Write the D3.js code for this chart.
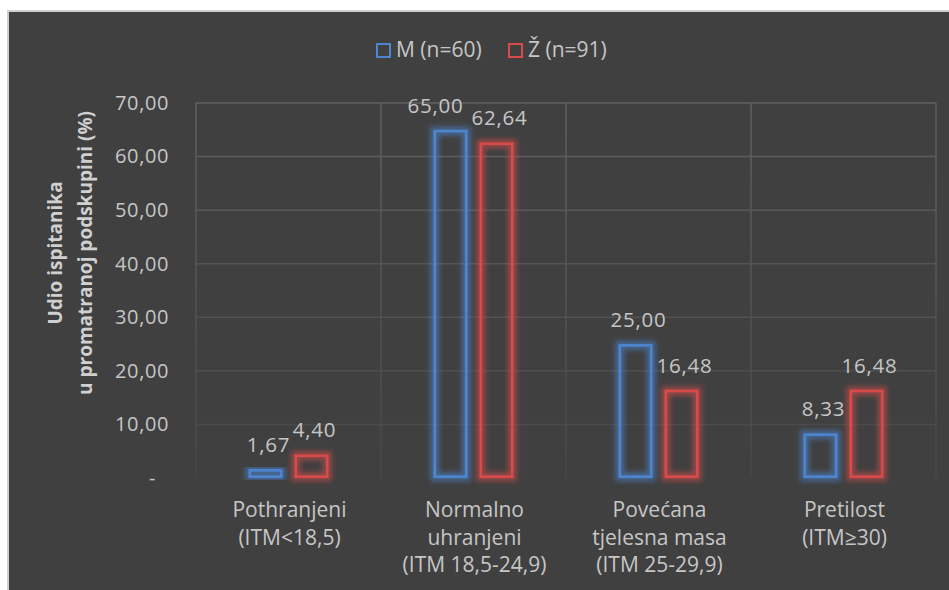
<!DOCTYPE html>
<html>
<head>
<meta charset="utf-8">
<script src="https://cdn.jsdelivr.net/npm/d3@7"></script>
<style>
  html, body { margin: 0; padding: 0; background: #ffffff; }
  svg { display: block; }
  text { font-family: "Open Sans", "Noto Sans", sans-serif; }
</style>
</head>
<body>
<svg id="chart" width="949" height="590"></svg>
<script>
// ---- data ----
const categories = [
  ["Pothranjeni", "(ITM<18,5)"],
  ["Normalno", "uhranjeni", "(ITM 18,5-24,9)"],
  ["Povećana", "tjelesna masa", "(ITM 25-29,9)"],
  ["Pretilost", "(ITM≥30)"]
];
const seriesNames = ["M (n=60)", "Ž (n=91)"];
const valuesM = [1.67, 65.00, 25.00, 8.33];
const valuesZ = [4.40, 62.64, 16.48, 16.48];
const tickValues = [0, 10, 20, 30, 40, 50, 60, 70];
const tickLabels = ["-", "10,00", "20,00", "30,00", "40,00", "50,00", "60,00", "70,00"];
const yTitle = ["Udio ispitanika", "u promatranoj podskupini (%)"];

// ---- styles ----
const colors = ["#4d85d1", "#d94b4b"];
const bg = "#404040";
const textColor = "#c6c6c6";

const svg = d3.select("#chart");
const W = 949, H = 590;
const plot = { left: 196, right: 936, top: 103, bottom: 478 };

svg.append("rect").attr("width", W).attr("height", H).attr("fill", "#ffffff");
svg.append("rect").attr("x", 8).attr("y", 11).attr("width", W).attr("height", H)
  .attr("fill", bg).attr("stroke", "#cfcfcf").attr("stroke-width", 2);

const defs = svg.append("defs");
const grad = defs.append("linearGradient").attr("id", "gridGrad")
  .attr("gradientUnits", "userSpaceOnUse")
  .attr("x1", 0).attr("x2", 0).attr("y1", plot.top).attr("y2", plot.bottom);
grad.append("stop").attr("offset", "0%").attr("stop-color", "#606060");
grad.append("stop").attr("offset", "100%").attr("stop-color", "#474747");

const glow = defs.append("filter").attr("id", "glow")
  .attr("x", "-50%").attr("y", "-50%").attr("width", "200%").attr("height", "200%");
glow.append("feGaussianBlur").attr("stdDeviation", 2.8);

const catKeys = categories.map((c, i) => i);
const x0 = d3.scaleBand().domain(catKeys).range([plot.left, plot.right]).padding(0);
const x1 = d3.scaleBand().domain([0, 1]).range([-40, 40]).paddingInner(0.261).paddingOuter(0);
const y = d3.scaleLinear().domain([0, 70]).range([plot.bottom, plot.top]);

// gridlines
const grid = svg.append("g");
grid.selectAll(".hg").data(tickValues.filter(v => v > 0)).join("line")
  .attr("x1", plot.left).attr("x2", plot.right)
  .attr("y1", d => y(d)).attr("y2", d => y(d))
  .attr("stroke", "url(#gridGrad)").attr("stroke-width", 1.5);
const vLines = catKeys.map(k => x0(k)).concat([plot.right]);
grid.selectAll(".vg").data(vLines).join("line")
  .attr("x1", d => d).attr("x2", d => d)
  .attr("y1", plot.top).attr("y2", plot.bottom)
  .attr("stroke", "url(#gridGrad)").attr("stroke-width", 1.5);

// y axis
const yAxis = d3.axisLeft(y).tickValues(tickValues)
  .tickFormat((d, i) => tickLabels[i]).tickSize(0).tickPadding(27);
const ya = svg.append("g").attr("transform", `translate(${plot.left},0)`).call(yAxis);
ya.select(".domain").remove();
ya.selectAll("text").attr("fill", textColor).style("font-size", "20px")
  .style("letter-spacing", "0.6px")
  .style("font-family", '"Open Sans", sans-serif')
  .attr("dx", (d, i) => tickLabels[i] === "-" ? -13 : 0);

// bars
const series = [valuesM, valuesZ];
const barW = x1.bandwidth();
const sw = 2.6;
series.forEach((vals, s) => {
  const g = svg.append("g");
  const data = vals.map((v, i) => ({ v, i }));
  const bx = d => x0(d.i) + x0.bandwidth() / 2 + x1(s);
  g.selectAll(".glow").data(data).join("rect")
    .attr("x", d => bx(d) + sw / 2).attr("y", d => y(d.v) + sw / 2)
    .attr("width", barW - sw).attr("height", d => y(0) - y(d.v) - sw)
    .attr("fill", "none").attr("stroke", colors[s]).attr("stroke-width", 9)
    .attr("stroke-opacity", 0.55).attr("filter", "url(#glow)");
  g.selectAll(".bar").data(data).join("rect")
    .attr("x", d => bx(d) + sw / 2).attr("y", d => y(d.v) + sw / 2)
    .attr("width", barW - sw).attr("height", d => y(0) - y(d.v) - sw)
    .attr("fill", "none").attr("stroke", colors[s]).attr("stroke-width", sw);
  g.selectAll(".lbl").data(data).join("text")
    .attr("x", d => bx(d) + barW / 2 + 3 + (s === 0 && d.v > y.domain()[1] - 10 ? -18 : 0))
    .attr("y", d => y(d.v) - 17)
    .attr("text-anchor", "middle").attr("fill", textColor)
    .style("font-size", "20.5px").style("letter-spacing", "0.8px")
    .text(d => d.v.toFixed(2).replace(".", ","));
});

// category labels
const cl = svg.append("g");
categories.forEach((lines, i) => {
  const t = cl.append("text")
    .attr("x", x0(i) + x0.bandwidth() / 2 + 1).attr("y", 517)
    .attr("text-anchor", "middle").attr("fill", textColor).style("font-size", "21px");
  lines.forEach((ln, j) => t.append("tspan")
    .attr("x", x0(i) + x0.bandwidth() / 2 + 1).attr("dy", j === 0 ? 0 : 27.5).text(ln));
});

// legend
const legX = [376, 508];
seriesNames.forEach((n, s) => {
  svg.append("rect").attr("x", legX[s] + 1).attr("y", 44).attr("width", 13).attr("height", 13)
    .attr("fill", "none").attr("stroke", colors[s]).attr("stroke-width", 2);
  svg.append("text").attr("x", legX[s] + 20).attr("y", 56.5).attr("fill", textColor)
    .style("font-size", "21px").text(n);
});

// y title
const yt = svg.append("text").attr("transform", "translate(62,253) rotate(-90)")
  .attr("text-anchor", "middle").attr("fill", "#d0d0d0")
  .style("font-size", "19px").style("font-weight", "bold");
yTitle.forEach((ln, j) => yt.append("tspan").attr("x", 0).attr("dy", j === 0 ? 0 : 30).text(ln));
</script>
</body>
</html>
